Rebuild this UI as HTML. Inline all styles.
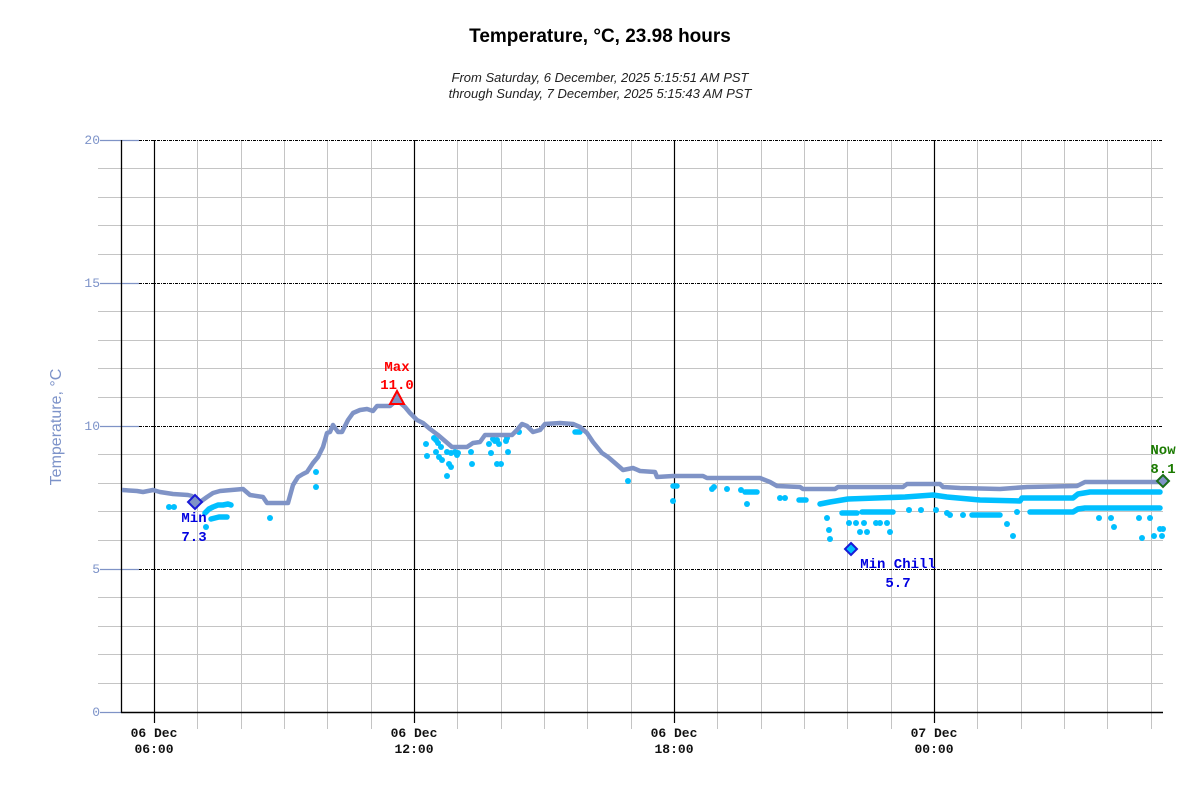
<!DOCTYPE html>
<html><head><meta charset="utf-8"><style>
html,body{margin:0;padding:0;background:#fff;width:1200px;height:800px;overflow:hidden}
svg{display:block}
.mono{font-family:"Liberation Mono",monospace}
</style></head><body>
<svg width="1200" height="800" viewBox="0 0 1200 800" xmlns="http://www.w3.org/2000/svg">
<rect width="1200" height="800" fill="#fff"/>
<text x="600" y="42" text-anchor="middle" font-family="Liberation Sans, sans-serif" font-weight="bold" font-size="19" fill="#000">Temperature, °C, 23.98 hours</text>
<text x="600" y="82" text-anchor="middle" font-family="Liberation Sans, sans-serif" font-style="italic" font-size="13" fill="#222">From Saturday, 6 December, 2025 5:15:51 AM PST</text>
<text x="600" y="98" text-anchor="middle" font-family="Liberation Sans, sans-serif" font-style="italic" font-size="13" fill="#222">through Sunday, 7 December, 2025 5:15:43 AM PST</text>

<!-- minor horizontal grid -->
<g stroke="#c4c4c4" stroke-width="1">
<line x1="98" y1="168.5" x2="1163" y2="168.5"/><line x1="98" y1="197.5" x2="1163" y2="197.5"/><line x1="98" y1="225.5" x2="1163" y2="225.5"/><line x1="98" y1="254.5" x2="1163" y2="254.5"/>
<line x1="98" y1="311.5" x2="1163" y2="311.5"/><line x1="98" y1="340.5" x2="1163" y2="340.5"/><line x1="98" y1="368.5" x2="1163" y2="368.5"/><line x1="98" y1="397.5" x2="1163" y2="397.5"/>
<line x1="98" y1="454.5" x2="1163" y2="454.5"/><line x1="98" y1="483.5" x2="1163" y2="483.5"/><line x1="98" y1="511.5" x2="1163" y2="511.5"/><line x1="98" y1="540.5" x2="1163" y2="540.5"/>
<line x1="98" y1="597.5" x2="1163" y2="597.5"/><line x1="98" y1="626.5" x2="1163" y2="626.5"/><line x1="98" y1="654.5" x2="1163" y2="654.5"/><line x1="98" y1="683.5" x2="1163" y2="683.5"/>
</g>
<!-- minor vertical grid -->
<g stroke="#c4c4c4" stroke-width="1">
<line x1="197.5" y1="140" x2="197.5" y2="729"/><line x1="241.5" y1="140" x2="241.5" y2="729"/><line x1="284.5" y1="140" x2="284.5" y2="729"/><line x1="327.5" y1="140" x2="327.5" y2="729"/><line x1="371.5" y1="140" x2="371.5" y2="729"/>
<line x1="457.5" y1="140" x2="457.5" y2="729"/><line x1="501.5" y1="140" x2="501.5" y2="729"/><line x1="544.5" y1="140" x2="544.5" y2="729"/><line x1="587.5" y1="140" x2="587.5" y2="729"/><line x1="631.5" y1="140" x2="631.5" y2="729"/>
<line x1="717.5" y1="140" x2="717.5" y2="729"/><line x1="761.5" y1="140" x2="761.5" y2="729"/><line x1="804.5" y1="140" x2="804.5" y2="729"/><line x1="847.5" y1="140" x2="847.5" y2="729"/><line x1="891.5" y1="140" x2="891.5" y2="729"/>
<line x1="977.5" y1="140" x2="977.5" y2="729"/><line x1="1021.5" y1="140" x2="1021.5" y2="729"/><line x1="1064.5" y1="140" x2="1064.5" y2="729"/><line x1="1107.5" y1="140" x2="1107.5" y2="729"/><line x1="1151.5" y1="140" x2="1151.5" y2="729"/>
</g>
<!-- major vertical -->
<g stroke="#000" stroke-width="1.2">
<line x1="154.5" y1="140" x2="154.5" y2="723"/><line x1="414.5" y1="140" x2="414.5" y2="723"/><line x1="674.5" y1="140" x2="674.5" y2="723"/><line x1="934.5" y1="140" x2="934.5" y2="723"/>
</g>
<!-- major horizontal dotted -->
<g stroke="#000" stroke-width="1" stroke-dasharray="3,1,1,1">
<line x1="139" y1="140.5" x2="1163" y2="140.5"/><line x1="139" y1="283.5" x2="1163" y2="283.5"/><line x1="139" y1="426.5" x2="1163" y2="426.5"/><line x1="139" y1="569.5" x2="1163" y2="569.5"/>
</g>
<g stroke="#7f93c6" stroke-width="1.2">
<line x1="100" y1="140.5" x2="139" y2="140.5"/><line x1="100" y1="283.5" x2="139" y2="283.5"/><line x1="100" y1="426.5" x2="139" y2="426.5"/><line x1="100" y1="569.5" x2="139" y2="569.5"/><line x1="100" y1="712.5" x2="121" y2="712.5"/>
</g>
<!-- axes -->
<line x1="121.5" y1="140" x2="121.5" y2="713" stroke="#000" stroke-width="1.3"/>
<line x1="121" y1="712.5" x2="1163" y2="712.5" stroke="#000" stroke-width="1.5"/>

<!-- y labels -->
<g class="mono" font-size="13" fill="#7d93c9" text-anchor="end">
<text x="100" y="144">20</text><text x="100" y="287">15</text><text x="100" y="430">10</text><text x="100" y="573">5</text><text x="100" y="716">0</text>
</g>
<text transform="translate(61,427) rotate(-90)" text-anchor="middle" font-family="Liberation Sans, sans-serif" font-size="16" fill="#7d93c9">Temperature, °C</text>

<!-- x labels -->
<g class="mono" font-size="13" font-weight="bold" fill="#111" text-anchor="middle">
<text x="154" y="737">06 Dec</text><text x="154" y="753">06:00</text>
<text x="414" y="737">06 Dec</text><text x="414" y="753">12:00</text>
<text x="674" y="737">06 Dec</text><text x="674" y="753">18:00</text>
<text x="934" y="737">07 Dec</text><text x="934" y="753">00:00</text>
</g>

<!-- scatter dots -->
<g fill="#00bfff">
<circle cx="169" cy="507" r="3"/><circle cx="174" cy="507" r="3"/><circle cx="206" cy="527" r="3"/><circle cx="270" cy="518" r="3"/>
<circle cx="316" cy="472" r="3"/><circle cx="316" cy="487" r="3"/>
<circle cx="426" cy="444" r="3"/><circle cx="427" cy="456" r="3"/><circle cx="434" cy="438" r="3"/><circle cx="436" cy="440" r="3"/><circle cx="438" cy="443" r="3"/><circle cx="441" cy="447" r="3"/><circle cx="436" cy="452" r="3"/><circle cx="439" cy="457" r="3"/><circle cx="442" cy="460" r="3"/><circle cx="449" cy="464" r="3"/><circle cx="451" cy="467" r="3"/><circle cx="447" cy="476" r="3"/><circle cx="447" cy="452" r="3"/><circle cx="451" cy="453" r="3"/><circle cx="455" cy="452" r="3"/><circle cx="457" cy="455" r="3"/><circle cx="458" cy="453" r="3"/><circle cx="471" cy="452" r="3"/><circle cx="472" cy="464" r="3"/><circle cx="489" cy="444" r="3"/><circle cx="491" cy="453" r="3"/><circle cx="493" cy="439" r="3"/><circle cx="495" cy="441" r="3"/><circle cx="497" cy="440" r="3"/><circle cx="499" cy="444" r="3"/><circle cx="506" cy="441" r="3"/><circle cx="507" cy="438" r="3"/><circle cx="508" cy="452" r="3"/><circle cx="497" cy="464" r="3"/><circle cx="501" cy="464" r="3"/><circle cx="519" cy="432" r="3"/>
<circle cx="628" cy="481" r="3"/><circle cx="673" cy="501" r="3"/><circle cx="712" cy="489" r="3"/><circle cx="714" cy="487" r="3"/><circle cx="727" cy="489" r="3"/><circle cx="741" cy="490" r="3"/><circle cx="747" cy="504" r="3"/><circle cx="780" cy="498" r="3"/><circle cx="785" cy="498" r="3"/>
<circle cx="827" cy="518" r="3"/><circle cx="829" cy="530" r="3"/><circle cx="830" cy="539" r="3"/><circle cx="849" cy="523" r="3"/><circle cx="856" cy="523" r="3"/><circle cx="864" cy="523" r="3"/><circle cx="860" cy="532" r="3"/><circle cx="867" cy="532" r="3"/><circle cx="876" cy="523" r="3"/><circle cx="880" cy="523" r="3"/><circle cx="887" cy="523" r="3"/><circle cx="890" cy="532" r="3"/>
<circle cx="909" cy="510" r="3"/><circle cx="921" cy="510" r="3"/><circle cx="936" cy="510" r="3"/><circle cx="947" cy="513" r="3"/><circle cx="950" cy="515" r="3"/><circle cx="963" cy="515" r="3"/>
<circle cx="1007" cy="524" r="3"/><circle cx="1013" cy="536" r="3"/><circle cx="1017" cy="512" r="3"/><circle cx="1099" cy="518" r="3"/><circle cx="1111" cy="518" r="3"/><circle cx="1114" cy="527" r="3"/><circle cx="1139" cy="518" r="3"/><circle cx="1142" cy="538" r="3"/><circle cx="1150" cy="518" r="3"/><circle cx="1154" cy="536" r="3"/><circle cx="1160" cy="529" r="3"/><circle cx="1162" cy="536" r="3"/><circle cx="1163" cy="529" r="3"/>
</g>
<g fill="none" stroke="#00bfff" stroke-width="5.5" stroke-linecap="round" stroke-linejoin="round">
<polyline points="205,513 209,509 213,507 218,505 223,505 228,504 231,505"/>
<polyline points="211,519 219,517 227,517"/>
<polyline points="673,486 677,486"/>
<polyline points="745,492 757,492"/>
<polyline points="575,432 580,432"/>
<polyline points="799,500 806,500"/>
<polyline points="820,504 830,502 848,499 905,497 933,495 947,497 980,500 1020,501 1022,498 1073,498 1078,494 1090,492 1160,492"/>
<polyline points="842,513 857,513"/>
<polyline points="862,512 893,512"/>
<polyline points="972,515 1000,515"/>
<polyline points="1030,512 1073,512 1078,509 1085,508 1160,508"/>
</g>

<!-- temperature line -->
<polyline fill="none" stroke="#7f93c6" stroke-width="4.5" stroke-linejoin="round" points="
122,490 137,491 143,492 153,490 160,492 173,494 188,495 192,496 195,503 200,502 207,497 213,493 220,491 243,489 250,495 263,497 267,503 288,503 293,485 298,477 303,474 307,472 313,463 318,457 323,447 327,433 330,432 333,425 338,432 342,432 348,420 353,413 360,410 367,409 373,411 377,406 390,406 397,400 405,407 410,413 417,420 423,423 430,429 438,435 445,441 452,447 467,447 473,443 480,442 485,435 493,435 512,435 517,430 522,424 527,426 533,432 540,430 545,424 560,423 573,424 580,427 587,433 593,442 602,453 608,457 615,463 623,470 633,468 640,471 655,472 657,477 673,476 703,476 707,478 760,478 770,482 777,486 800,487 803,489 835,489 838,487 903,487 907,484 940,484 943,487 960,488 1000,489 1027,487 1077,486 1085,482 1162,482"/>

<!-- markers -->
<polygon points="195,495 202,502 195,509 188,502" fill="#7f93c6" stroke="#1a1ad6" stroke-width="2"/>
<polygon points="397,391 404,404 390,404" fill="#7f93c6" stroke="#ff0000" stroke-width="2"/>
<polygon points="851,543 857,549 851,555 845,549" fill="#00bfff" stroke="#1a1ad6" stroke-width="2"/>
<polygon points="1163,475 1169,481 1163,487 1157,481" fill="#7f93c6" stroke="#1a6e1a" stroke-width="2"/>

<g class="mono" font-size="14" font-weight="bold" text-anchor="middle">
<text x="194" y="522" fill="#0000e0">Min</text><text x="194" y="541" fill="#0000e0">7.3</text>
<text x="397" y="371" fill="#ff0000">Max</text><text x="397" y="389" fill="#ff0000">11.0</text>
<text x="898" y="568" fill="#0000e0">Min Chill</text><text x="898" y="587" fill="#0000e0">5.7</text>
<text x="1163" y="454" fill="#1a7a00">Now</text><text x="1163" y="473" fill="#1a7a00">8.1</text>
</g>
</svg>
</body></html>
